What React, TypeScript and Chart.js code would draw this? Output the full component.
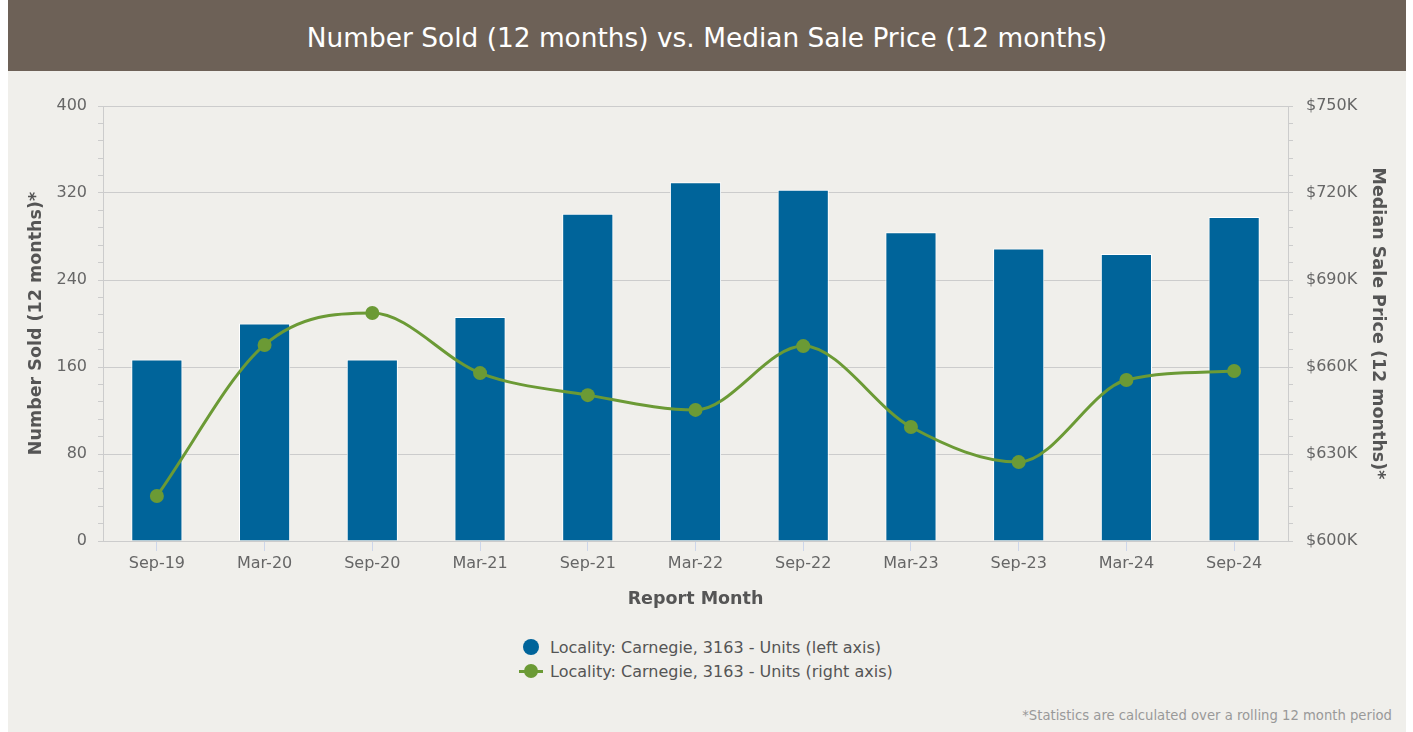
import React, { useEffect, useRef } from 'react';
import { Chart, registerables } from 'chart.js';

Chart.register(...registerables);

const categories = ['Sep-19', 'Mar-20', 'Sep-20', 'Mar-21', 'Sep-21', 'Mar-22', 'Sep-22', 'Mar-23', 'Sep-23', 'Mar-24', 'Sep-24'];
const numberSold = [167, 200, 167, 206, 301, 330, 323, 284, 269, 264, 298];
const medianSalePrice = [615500, 667600, 678600, 657900, 650300, 645200, 667200, 639300, 627200, 655500, 658600];

const leftMin = 0;
const leftMax = 400;
const leftMajorStep = 80;
const leftMinorStep = 16;
const rightMin = 600000;
const rightMax = 750000;
const rightMajorStep = 30000;
const rightMinorStep = 6000;

const titleText = 'Number Sold (12 months) vs. Median Sale Price (12 months)';
const leftAxisTitle = 'Number Sold (12 months)*';
const rightAxisTitle = 'Median Sale Price (12 months)*';
const xAxisTitle = 'Report Month';
const seriesLabels = ['Locality: Carnegie, 3163 - Units (left axis)', 'Locality: Carnegie, 3163 - Units (right axis)'];
const footnote = '*Statistics are calculated over a rolling 12 month period';

const BLUE = '#00649a';
const GREEN = '#6b9a35';
const BG = '#f0efeb';
const FONT = "'DejaVu Sans', sans-serif";

export default function App() {
  const canvasRef = useRef<HTMLCanvasElement | null>(null);

  useEffect(() => {
    const canvas = canvasRef.current;
    if (!canvas) return;
    const chart = new Chart(canvas, {
      type: 'bar',
      data: {
        labels: categories,
        datasets: [
          {
            type: 'line',
            label: seriesLabels[1],
            data: medianSalePrice,
            yAxisID: 'y1',
            borderColor: GREEN,
            backgroundColor: GREEN,
            borderWidth: 3,
            pointRadius: 7,
            pointHoverRadius: 7,
            pointBackgroundColor: GREEN,
            pointBorderWidth: 0,
            cubicInterpolationMode: 'monotone',
            order: 0,
          } as any,
          {
            type: 'bar',
            label: seriesLabels[0],
            data: numberSold,
            yAxisID: 'y',
            backgroundColor: BLUE,
            borderColor: '#ffffff',
            borderWidth: 1,
            barPercentage: 0.475,
            categoryPercentage: 1,
            order: 1,
          } as any,
        ],
      },
      options: {
        responsive: false,
        animation: false,
        devicePixelRatio: 1,
        layout: { padding: { top: 35, left: 0, right: 0, bottom: 0 } },
        plugins: {
          legend: { display: false },
          tooltip: { enabled: false },
          title: { display: false },
        },
        scales: {
          x: {
            type: 'category',
            offset: true,
            grid: {
              offset: false,
              drawOnChartArea: false,
              drawTicks: true,
              tickLength: 10,
              tickColor: '#ccd6eb',
            },
            border: { color: '#cccccc', width: 1 },
            ticks: {
              color: '#666666',
              font: { family: FONT, size: 16 },
              padding: 3,
              maxRotation: 0,
              autoSkip: false,
            },
            title: {
              display: true,
              text: xAxisTitle,
              color: '#555555',
              font: { family: FONT, size: 17.5, weight: 'bold' },
              padding: { top: 0, bottom: 21 },
            },
            afterFit: (scale: any) => {
              scale.height = 90;
            },
          },
          y: {
            type: 'linear',
            position: 'left',
            min: leftMin,
            max: leftMax,
            grid: {
              color: (ctx: any) => (ctx.tick && ctx.tick.value % leftMajorStep === 0 ? '#cccccc' : 'rgba(0,0,0,0)'),
              tickColor: '#cccccc',
              tickLength: 5,
              lineWidth: 1,
            },
            border: { color: '#cccccc', width: 1 },
            ticks: {
              stepSize: leftMinorStep,
              autoSkip: false,
              color: '#666666',
              font: { family: FONT, size: 16 },
              padding: 11,
              callback: (v: any) => (Number(v) % leftMajorStep === 0 ? String(v) : ''),
            },
            title: {
              display: true,
              text: leftAxisTitle,
              color: '#555555',
              font: { family: FONT, size: 17.5, weight: 'bold' },
              padding: { top: 18, bottom: 0 },
            },
            afterFit: (scale: any) => {
              scale.width = 95;
            },
          },
          y1: {
            type: 'linear',
            position: 'right',
            min: rightMin,
            max: rightMax,
            grid: {
              drawOnChartArea: false,
              tickColor: '#cccccc',
              tickLength: 5,
            },
            border: { color: '#cccccc', width: 1 },
            ticks: {
              stepSize: rightMinorStep,
              autoSkip: false,
              color: '#666666',
              font: { family: FONT, size: 16 },
              padding: 13,
              callback: (v: any) => (Math.round(Number(v)) % rightMajorStep === 0 ? '$' + Math.round(Number(v) / 1000) + 'K' : ''),
            },
            title: {
              display: true,
              text: rightAxisTitle,
              color: '#555555',
              font: { family: FONT, size: 17.5, weight: 'bold' },
              padding: { top: 18, bottom: 0 },
            },
            afterFit: (scale: any) => {
              scale.width = 118;
            },
          },
        },
      } as any,
    });
    return () => chart.destroy();
  }, []);

  const textStyle: React.CSSProperties = { fontFamily: FONT, fontSize: 16, color: '#555555', whiteSpace: 'nowrap' };

  return (
    <div style={{ position: 'absolute', left: 8, top: 0, width: 1398, height: 732, background: BG, overflow: 'hidden' }}>
      <div
        style={{
          height: 71,
          background: '#6d6157',
          color: '#ffffff',
          fontFamily: FONT,
          fontSize: 26.4,
          display: 'flex',
          alignItems: 'center',
          justifyContent: 'center',
          paddingTop: 3,
          boxSizing: 'border-box',
          whiteSpace: 'nowrap',
        }}
      >
        {titleText}
      </div>
      <canvas ref={canvasRef} width={1398} height={560} style={{ position: 'absolute', left: 0, top: 71, width: 1398, height: 560 }} />
      <div style={{ position: 'absolute', left: 511, top: 635, display: 'flex', flexDirection: 'column' }}>
        <div style={{ display: 'flex', alignItems: 'center', height: 24 }}>
          <div style={{ width: 24, height: 24, position: 'relative' }}>
            <div style={{ position: 'absolute', left: 4, top: 4, width: 16, height: 16, borderRadius: 8, background: BLUE }} />
          </div>
          <span style={{ ...textStyle, marginLeft: 7 }}>{seriesLabels[0]}</span>
        </div>
        <div style={{ display: 'flex', alignItems: 'center', height: 24 }}>
          <div style={{ width: 24, height: 24, position: 'relative' }}>
            <div style={{ position: 'absolute', left: 0, top: 10.5, width: 24, height: 3, background: GREEN }} />
            <div style={{ position: 'absolute', left: 5, top: 5, width: 14, height: 14, borderRadius: 7, background: GREEN }} />
          </div>
          <span style={{ ...textStyle, marginLeft: 7 }}>{seriesLabels[1]}</span>
        </div>
      </div>
      <div
        style={{
          position: 'absolute',
          right: 14,
          top: 708,
          fontFamily: FONT,
          fontSize: 13.2,
          lineHeight: '16px',
          color: '#999999',
          whiteSpace: 'nowrap',
        }}
      >
        {footnote}
      </div>
    </div>
  );
}
